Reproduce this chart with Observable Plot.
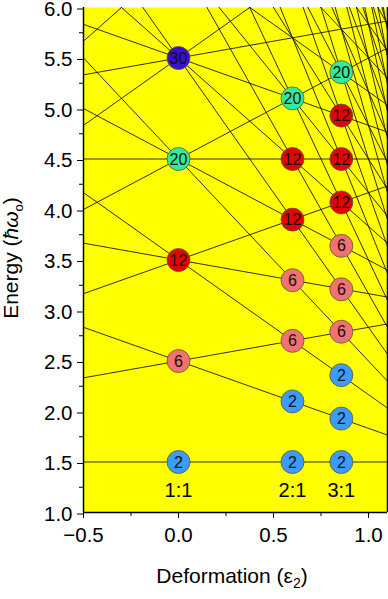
<!DOCTYPE html>
<html>
<head>
<meta charset="utf-8">
<script src="https://cdn.jsdelivr.net/npm/d3@7"></script>
<script src="https://cdn.jsdelivr.net/npm/@observablehq/plot@0.6"></script>
<style>
  html, body { margin: 0; padding: 0; background: #fff; }
  #chart { width: 388px; height: 599px; }
</style>
</head>
<body>
<div id="chart"></div>
<script>
// Oscillator levels: energy at zero deformation and slope (in thirds of hbar*omega0 per unit deformation)
const lineE0 = [
  1.5, 2.5, 3.5, 4.5, 5.5, 6.5, 7.5, 8.5, 9.5, 10.5, 11.5, 12.5, 13.5, 14.5, 15.5, 16.5, 17.5,
  2.5, 3.5, 4.5, 5.5, 6.5, 7.5, 8.5, 9.5, 10.5, 11.5, 12.5, 13.5,
  3.5, 4.5, 5.5, 6.5, 7.5, 8.5, 9.5,
  4.5, 5.5,
  5.5,
  6.5
];
const lineSlope3 = [
  0, -2, -4, -6, -8, -10, -12, -14, -16, -18, -20, -22, -24, -26, -28, -30, -32,
  1, -1, -3, -5, -7, -9, -11, -13, -15, -17, -19, -21,
  2, 0, -2, -4, -6, -8, -10,
  3, 1,
  4,
  5
];

// Shell-closure circles
const circleX = [0, 0, 0, 0, 0,
                 0.6, 0.6, 0.6, 0.6, 0.6, 0.6, 0.6,
                 0.857, 0.857, 0.857, 0.857, 0.857, 0.857, 0.857, 0.857, 0.857, 0.857];
const circleE = [1.5, 2.5, 3.5, 4.5, 5.5,
                 1.5, 2.1, 2.7, 3.3, 3.9, 4.5, 5.1,
                 1.5, 1.93, 2.36, 2.79, 3.21, 3.64, 4.07, 4.5, 4.93, 5.36];
const circleLabel = [2, 6, 12, 20, 30,
                     2, 2, 6, 6, 12, 12, 20,
                     2, 2, 2, 6, 6, 6, 12, 12, 12, 20];
const labelColor = {2: "#3b9bff", 6: "#f27272", 12: "#e80000", 20: "#33e99a", 30: "#3a0fd0"};

// Ratio labels
const ratioX = [0, 0.6, 0.857];
const ratioText = ["1:1", "2:1", "3:1"];

// Axes
const xTicks = [-0.5, 0, 0.5, 1.0];
const xMinor = [-0.25, 0.25, 0.75];
const yTicks = [1.0, 1.5, 2.0, 2.5, 3.0, 3.5, 4.0, 4.5, 5.0, 5.5, 6.0];
const yMinor = [1.25, 1.75, 2.25, 2.75, 3.25, 3.75, 4.25, 4.75, 5.25, 5.75];
const xDomain = [-0.5, 1.1];
const yDomain = [1, 6];

const lines = lineE0.map((e0, i) => ({e0, s: lineSlope3[i] / 3}));
const circles = circleX.map((x, i) => ({x, e: circleE[i], n: circleLabel[i]}));
const ratios = ratioX.map((x, i) => ({x, t: ratioText[i]}));

const fmt = d => (d < 0 ? "\u2212" : "") + Math.abs(d).toFixed(1);
const FONT = "'Liberation Sans', Arial, Helvetica, sans-serif";

const chart = Plot.plot({
  width: 388,
  height: 599,
  marginLeft: 83,
  marginRight: 1,
  marginTop: 7,
  marginBottom: 87,
  x: {domain: xDomain},
  y: {domain: yDomain},
  style: {fontFamily: FONT, background: "#fff", color: "#000", overflow: "visible"},
  marks: [
    Plot.frame({fill: "#ffff00", stroke: null}),
    Plot.link(lines, {
      x1: () => xDomain[0],
      x2: () => xDomain[1],
      y1: d => d.e0 + d.s * xDomain[0],
      y2: d => d.e0 + d.s * xDomain[1],
      stroke: "#1a1a00",
      strokeWidth: 0.9,
      clip: true
    }),
    Plot.dot(circles, {x: "x", y: "e", r: 11.5, fill: d => labelColor[d.n], stroke: "#5a5a30", strokeWidth: 0.8}),
    Plot.text(circles, {x: "x", y: "e", text: d => String(d.n), fontSize: 16, fill: "#111", dy: 0.5, letterSpacing: -0.6}),
    Plot.text(ratios, {x: "x", y: () => 1.22, text: "t", fontSize: 20, fill: "#000"}),
    Plot.axisY({ticks: yTicks, tickFormat: fmt, tickSize: 6, tickPadding: 5, fontSize: 20.5, dy: 1.5, label: null, stroke: "#000", fill: "#000"}),
    Plot.axisY({ticks: yMinor, tickFormat: () => "", tickSize: 4, label: null, stroke: "#000"}),
    Plot.axisX({ticks: xTicks, tickFormat: fmt, tickSize: 6, tickPadding: 9, fontSize: 20.5, label: null, stroke: "#000", fill: "#000"}),
    Plot.axisX({ticks: xMinor, tickFormat: () => "", tickSize: 4, label: null, stroke: "#000"}),
    Plot.ruleX([xDomain[0], xDomain[1]], {stroke: "#000", strokeWidth: 1.5}),
    Plot.ruleY([yDomain[0]], {stroke: "#000", strokeWidth: 1.5})
  ]
});

document.getElementById("chart").appendChild(chart);

// Axis titles with subscript styling
const svg = d3.select(chart);
const xt = svg.append("text")
  .attr("x", 232).attr("y", 583)
  .attr("text-anchor", "middle")
  .attr("font-family", FONT).attr("font-size", 21).attr("fill", "#000");
xt.append("tspan").text("Deformation (\u03B5");
xt.append("tspan").attr("font-size", 14).attr("dy", 5).text("2");
xt.append("tspan").attr("dy", -5).text(")");

const yt = svg.append("text")
  .attr("transform", "translate(18,258) rotate(-90)")
  .attr("text-anchor", "middle")
  .attr("font-family", FONT).attr("font-size", 21).attr("fill", "#000");
yt.append("tspan").text("Energy (");
yt.append("tspan").attr("font-style", "italic").text("\u0127\u03C9");
yt.append("tspan").attr("font-size", 13).attr("dy", 5).text("o");
yt.append("tspan").attr("dy", -5).text(")");
</script>
</body>
</html>
